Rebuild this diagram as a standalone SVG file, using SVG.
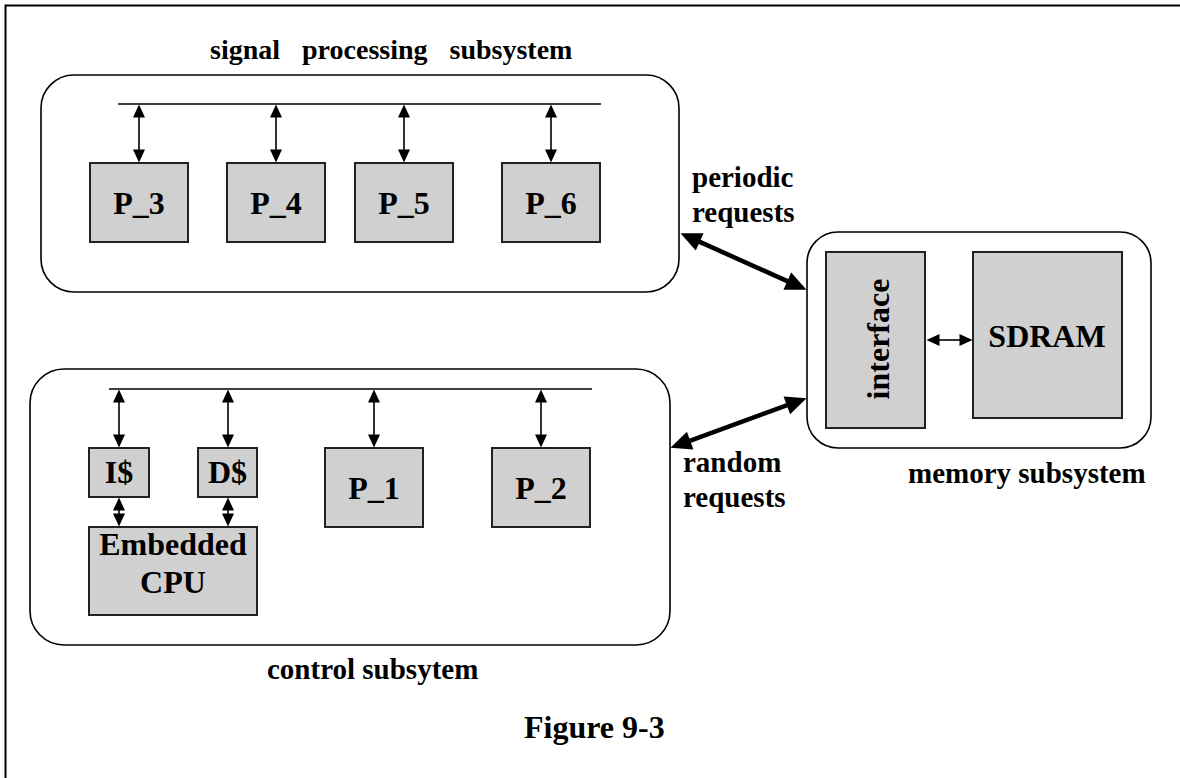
<svg xmlns="http://www.w3.org/2000/svg" width="1180" height="778" viewBox="0 0 1180 778">
  <style>
    text { font-family: "Liberation Serif", "Times New Roman", serif; font-weight: bold; fill: #000; }
    .lbl { font-size: 32px; text-anchor: middle; }
    .cap { font-size: 29px; }
    .sub { fill: #fff; stroke: #000; stroke-width: 1.6; }
    .blk { fill: #d0d0d0; stroke: #222; stroke-width: 2; }
    .bus { stroke: #000; stroke-width: 1.6; fill: none; }
    .lnk { stroke: #000; stroke-width: 1.6; fill: none; marker-start: url(#head); marker-end: url(#head); }
    .req { stroke: #000; stroke-width: 4.5; fill: none; marker-start: url(#bighead); marker-end: url(#bighead); }
  </style>
  <defs>
    <marker id="head" markerUnits="userSpaceOnUse" markerWidth="14" markerHeight="12" refX="0.5" refY="6" orient="auto-start-reverse" overflow="visible">
      <path d="M0,0 L13,6 L0,12 z" fill="#000"/>
    </marker>
    <marker id="bighead" markerUnits="userSpaceOnUse" markerWidth="21" markerHeight="20" refX="0.5" refY="9.5" orient="auto-start-reverse" overflow="visible">
      <path d="M0,0 L21,9.5 L0,19 z" fill="#000"/>
    </marker>
  </defs>

  <rect width="1180" height="778" fill="#fff"/>
  <!-- frame -->
  <path d="M5.5,778 V5.5 H1180" fill="none" stroke="#000" stroke-width="2"/>

  <!-- signal processing subsystem -->
  <g id="signal-subsystem">
    <rect class="sub" x="41" y="75" width="638" height="217" rx="33" ry="33"/>
    <text x="210" y="59" font-size="28" word-spacing="15">signal processing subsystem</text>
    <line class="bus" x1="118" y1="104" x2="601" y2="104"/>
  </g>
  <g id="P_3"><rect class="blk" x="90" y="163" width="98" height="79"/><text class="lbl" x="139" y="214">P_3</text></g>
  <g id="P_4"><rect class="blk" x="227" y="163" width="98" height="79"/><text class="lbl" x="276" y="214">P_4</text></g>
  <g id="P_5"><rect class="blk" x="355" y="163" width="98" height="79"/><text class="lbl" x="404" y="214">P_5</text></g>
  <g id="P_6"><rect class="blk" x="502" y="163" width="98" height="79"/><text class="lbl" x="551" y="214">P_6</text></g>

  <!-- control subsystem -->
  <g id="control-subsystem">
    <rect class="sub" x="30" y="369" width="640" height="276" rx="34" ry="34"/>
    <line class="bus" x1="109" y1="389" x2="592" y2="389"/>
    <text class="cap" x="267" y="679">control subsytem</text>
  </g>
  <g id="I-cache"><rect class="blk" x="89" y="448" width="60" height="49"/><text class="lbl" x="119" y="483">I$</text></g>
  <g id="D-cache"><rect class="blk" x="198" y="448" width="59" height="49"/><text class="lbl" x="227.5" y="483">D$</text></g>
  <g id="P_1"><rect class="blk" x="325" y="448" width="98" height="79"/><text class="lbl" x="374" y="499">P_1</text></g>
  <g id="P_2"><rect class="blk" x="492" y="448" width="98" height="79"/><text class="lbl" x="541" y="499">P_2</text></g>
  <g id="cpu">
    <rect class="blk" x="89" y="527" width="168" height="88"/>
    <text class="lbl" x="173" y="555">Embedded</text>
    <text class="lbl" x="173" y="593">CPU</text>
  </g>

  <!-- memory subsystem -->
  <g id="memory-subsystem">
    <rect class="sub" x="807" y="232" width="344" height="216" rx="31" ry="31"/>
    <text class="cap" x="908" y="483">memory subsystem</text>
  </g>
  <g id="interface">
    <rect class="blk" x="826" y="252" width="99" height="176"/>
    <text class="lbl" transform="translate(889,339) rotate(-90)">interface</text>
  </g>
  <g id="sdram">
    <rect class="blk" x="973" y="252" width="149" height="166"/>
    <text class="lbl" x="1047" y="347">SDRAM</text>
  </g>

  <!-- request labels and caption -->
  <g id="labels">
    <text class="cap" x="692" y="187">periodic</text>
    <text class="cap" x="692" y="222">requests</text>
    <text class="cap" x="683" y="472">random</text>
    <text class="cap" x="683" y="507">requests</text>
    <text x="524" y="738" font-size="32">Figure 9-3</text>
  </g>

  <!-- connectors -->
  <g id="connectors">
    <line class="lnk" x1="139" y1="117" x2="139" y2="150"/>
    <line class="lnk" x1="276" y1="117" x2="276" y2="150"/>
    <line class="lnk" x1="404" y1="117" x2="404" y2="150"/>
    <line class="lnk" x1="551" y1="117" x2="551" y2="150"/>

    <line class="lnk" x1="119" y1="402" x2="119" y2="435"/>
    <line class="lnk" x1="228" y1="402" x2="228" y2="435"/>
    <line class="lnk" x1="374" y1="402" x2="374" y2="435"/>
    <line class="lnk" x1="541" y1="402" x2="541" y2="435"/>

    <line class="lnk" x1="119" y1="510" x2="119" y2="514"/>
    <line class="lnk" x1="228" y1="510" x2="228" y2="514"/>

    <line class="lnk" x1="939" y1="340" x2="960" y2="340"/>

    <line class="req" x1="699.2" y1="241.6" x2="787.8" y2="281.4"/>
    <line class="req" x1="787.3" y1="405.2" x2="689.7" y2="440.8"/>
  </g>
</svg>
